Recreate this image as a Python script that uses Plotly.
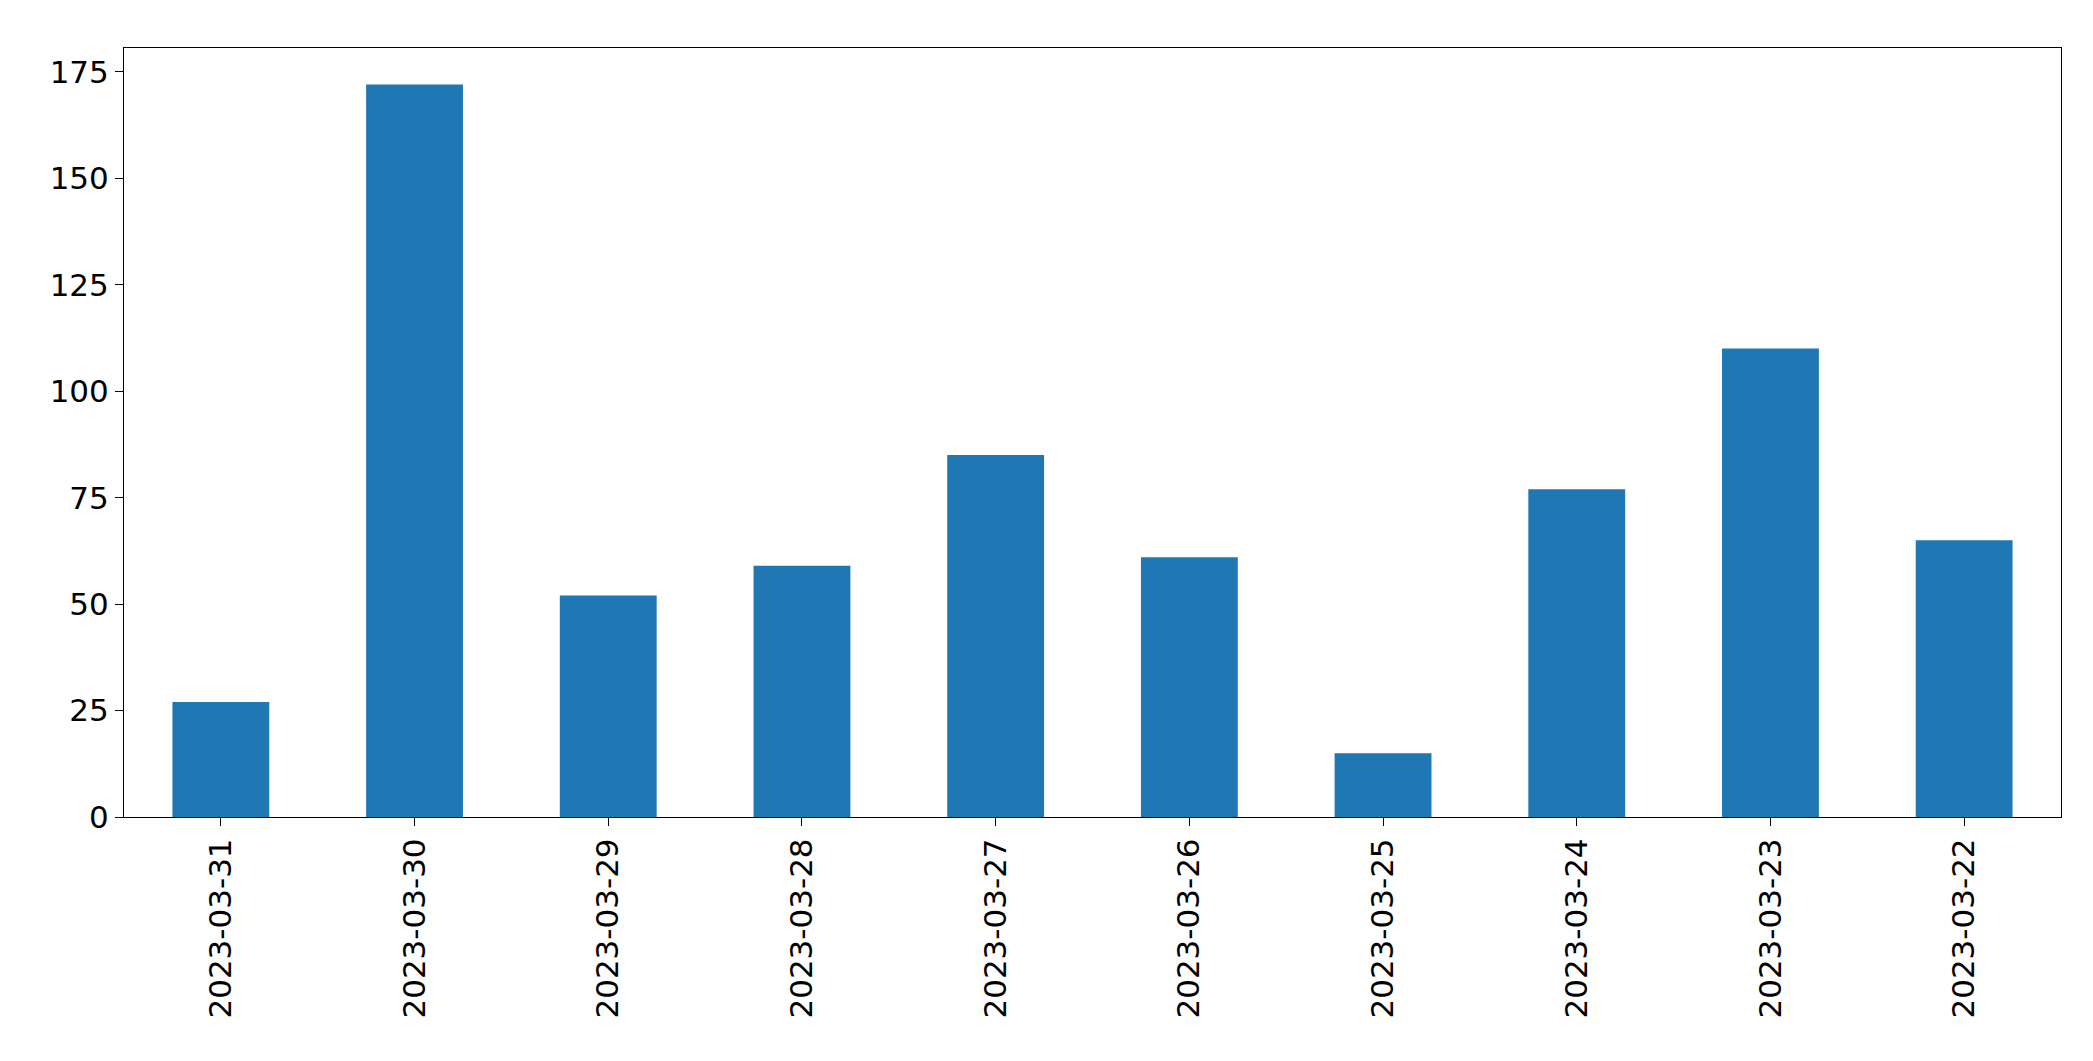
import plotly.graph_objects as go

dates = ['2023-03-31', '2023-03-30', '2023-03-29', '2023-03-28', '2023-03-27',
         '2023-03-26', '2023-03-25', '2023-03-24', '2023-03-23', '2023-03-22']
counts = [27, 172, 52, 59, 85, 61, 15, 77, 110, 65]

fig = go.Figure(go.Bar(x=dates, y=counts, width=0.5, marker_color='#1f77b4', marker_line_width=0))

fig.update_layout(
    width=2093, height=1061,
    margin=dict(l=116, r=40, t=40, b=252),
    plot_bgcolor='white', paper_bgcolor='white',
    font=dict(family='DejaVu Sans', size=31, color='black'),
    showlegend=False,
)
fig.update_xaxes(type='category', tickangle=-90, range=[-0.5, 9.5],
                 showline=True, linecolor='black', mirror=True,
                 ticks='outside', ticklen=8, tickcolor='black')
fig.update_yaxes(range=[0, 180.6], tickvals=[0, 25, 50, 75, 100, 125, 150, 175],
                 showgrid=False, zeroline=False,
                 showline=True, linecolor='black', mirror=True,
                 ticks='outside', ticklen=8, tickcolor='black')

fig.write_html("out.html")
